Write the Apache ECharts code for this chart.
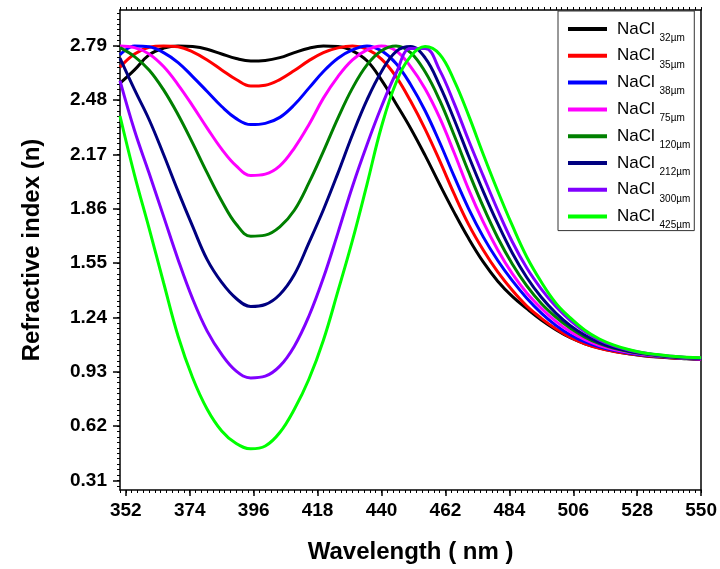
<!DOCTYPE html>
<html><head><meta charset="utf-8">
<script src="https://cdn.jsdelivr.net/npm/echarts@6/dist/echarts.min.js"></script>
<style>html,body{margin:0;padding:0;background:#fff}#c{width:720px;height:569px}</style>
</head><body><div id="c"></div>
<script>
const wavelengths = [350,355,360,365,370,375,380,385,390,395,400,405,410,415,420,425,430,435,440,445,450,455,460,465,470,475,480,485,490,495,500,505,510,515,520,525,530,535,540,545,550];

const nacl32 = [2.577,2.653,2.739,2.777,2.790,2.786,2.771,2.744,2.718,2.704,2.707,2.723,2.752,2.777,2.789,2.787,2.762,2.705,2.595,2.460,2.320,2.165,2.000,1.840,1.690,1.557,1.447,1.360,1.290,1.225,1.170,1.124,1.090,1.065,1.047,1.033,1.022,1.014,1.008,1.004,1.000];
const nacl35 = [2.669,2.744,2.782,2.790,2.785,2.756,2.710,2.653,2.598,2.561,2.566,2.598,2.649,2.706,2.752,2.779,2.790,2.772,2.715,2.615,2.475,2.315,2.135,1.945,1.770,1.625,1.500,1.395,1.305,1.235,1.175,1.126,1.090,1.064,1.046,1.033,1.023,1.015,1.009,1.005,1.002];
const nacl38 = [2.739,2.790,2.785,2.752,2.695,2.615,2.530,2.444,2.375,2.341,2.348,2.382,2.454,2.549,2.644,2.720,2.767,2.790,2.762,2.690,2.570,2.420,2.240,2.045,1.860,1.700,1.565,1.450,1.350,1.265,1.195,1.140,1.100,1.072,1.052,1.037,1.026,1.018,1.011,1.006,1.003];
const nacl75 = [2.790,2.780,2.744,2.672,2.568,2.448,2.321,2.201,2.105,2.050,2.058,2.105,2.207,2.340,2.492,2.615,2.710,2.767,2.790,2.762,2.672,2.545,2.380,2.180,1.970,1.785,1.625,1.490,1.380,1.292,1.218,1.158,1.113,1.080,1.057,1.041,1.029,1.020,1.013,1.007,1.003];
const nacl120 = [2.780,2.729,2.653,2.539,2.397,2.235,2.065,1.905,1.772,1.704,1.710,1.757,1.852,2.008,2.188,2.378,2.549,2.682,2.763,2.790,2.752,2.642,2.480,2.280,2.070,1.872,1.695,1.545,1.420,1.320,1.242,1.178,1.128,1.090,1.064,1.046,1.032,1.022,1.014,1.008,1.005];
const nacl212 = [2.720,2.540,2.370,2.170,1.960,1.760,1.570,1.440,1.348,1.303,1.314,1.371,1.485,1.666,1.855,2.064,2.283,2.482,2.644,2.758,2.786,2.722,2.565,2.370,2.160,1.960,1.775,1.608,1.468,1.355,1.265,1.193,1.138,1.097,1.068,1.049,1.035,1.024,1.016,1.010,1.006];
const nacl300 = [2.592,2.307,2.064,1.817,1.570,1.346,1.162,1.029,0.934,0.895,0.905,0.962,1.076,1.247,1.466,1.723,1.988,2.226,2.444,2.634,2.775,2.775,2.652,2.462,2.250,2.048,1.852,1.672,1.522,1.402,1.302,1.222,1.158,1.111,1.078,1.054,1.038,1.026,1.018,1.012,1.008];
const nacl425 = [2.390,2.053,1.750,1.438,1.133,0.896,0.716,0.592,0.520,0.490,0.506,0.583,0.716,0.887,1.110,1.390,1.680,2.000,2.330,2.580,2.730,2.786,2.742,2.592,2.392,2.172,1.962,1.765,1.585,1.442,1.322,1.237,1.167,1.117,1.082,1.057,1.039,1.028,1.019,1.013,1.010];

const seriesSizes = ['32µm','35µm','38µm','75µm','120µm','212µm','300µm','425µm'];
const seriesValues = [nacl32,nacl35,nacl38,nacl75,nacl120,nacl212,nacl300,nacl425];
const seriesColors = ['#000000','#ff0000','#0000ff','#ff00ff','#008000','#000080','#8000ff','#00ff00'];

const xTickLabels = [352,374,396,418,440,462,484,506,528,550];
const yTickLabels = [0.31,0.62,0.93,1.24,1.55,1.86,2.17,2.48,2.79];

const FONT = '"Liberation Sans", Arial, sans-serif';
const X_MIN = 350, X_MAX = 550, Y_MIN = 0.255, Y_MAX = 2.995;

const xMinor = [];
for (let v = 350; v <= 550; v += 2) xMinor.push(v);
const yMinor = [];
for (let k = 9; k <= 96; k++) yMinor.push(Math.round(k * 31) / 1000);

const chart = echarts.init(document.getElementById('c'), null, {renderer: 'canvas'});

const axisLineStyle = {color: '#000', width: 1.5};
const series = seriesValues.map((vals, i) => ({
  name: 'NaCl ' + seriesSizes[i],
  type: 'line',
  xAxisIndex: 0, yAxisIndex: 0,
  data: wavelengths.map((w, j) => [w, vals[j]]),
  smooth: 0.4,
  showSymbol: false,
  symbol: 'none',
  lineStyle: {color: seriesColors[i], width: 3},
  itemStyle: {color: seriesColors[i]},
  z: 2 + i,
  animation: false
}));

chart.setOption({
  animation: false,
  backgroundColor: '#fff',
  grid: {left: 120, right: 17, top: 10, bottom: 78, containLabel: false},
  legend: {
    orient: 'vertical', left: 558, top: 11,
    padding: [4, 4, 0, 10],
    itemWidth: 39, itemHeight: 4, itemGap: -1.2,
    icon: 'rect',
    backgroundColor: '#fff',
    borderColor: '#333', borderWidth: 1,
    data: seriesSizes.map(s => 'NaCl ' + s),
    formatter: name => '{a|NaCl }{b|' + name.replace('NaCl ', '') + '}',
    textStyle: {
      fontFamily: FONT, color: '#000',
      rich: {
        a: {fontSize: 17, fontFamily: FONT, color: '#000', lineHeight: 22, padding: [0, 0, 0, 5]},
        b: {fontSize: 10, fontFamily: FONT, color: '#000', lineHeight: 8, padding: [18, 0, 0, 0]}
      }
    }
  },
  xAxis: [
    {
      type: 'value', min: X_MIN, max: X_MAX, position: 'bottom',
      axisLine: {onZero: false, lineStyle: axisLineStyle},
      axisTick: {show: true, customValues: xMinor, length: 3, lineStyle: {color: '#000', width: 1}},
      axisLabel: {customValues: xTickLabels, fontSize: 19, fontWeight: 'bold', color: '#000', fontFamily: FONT, margin: 11},
      splitLine: {show: false},
      name: 'Wavelength ( nm )', nameLocation: 'middle', nameGap: 50,
      nameTextStyle: {fontSize: 24, fontWeight: 'bold', color: '#000', fontFamily: FONT}
    },
    {
      type: 'value', min: X_MIN, max: X_MAX, position: 'bottom',
      axisLine: {show: false, onZero: false},
      axisTick: {show: true, customValues: xTickLabels, length: 6, lineStyle: {color: '#000', width: 1.5}},
      axisLabel: {show: false}, splitLine: {show: false}
    },
    {
      type: 'value', min: X_MIN, max: X_MAX, position: 'top',
      axisLine: {onZero: false, lineStyle: axisLineStyle},
      axisTick: {show: true, customValues: xMinor, length: 3, lineStyle: {color: '#000', width: 1}},
      axisLabel: {show: false}, splitLine: {show: false}
    }
  ],
  yAxis: [
    {
      type: 'value', min: Y_MIN, max: Y_MAX, position: 'left',
      axisLine: {onZero: false, lineStyle: axisLineStyle},
      axisTick: {show: true, customValues: yMinor, length: 3, lineStyle: {color: '#000', width: 1}},
      axisLabel: {customValues: yTickLabels, formatter: v => v.toFixed(2), fontSize: 19, fontWeight: 'bold', color: '#000', fontFamily: FONT, margin: 13},
      splitLine: {show: false},
      name: 'Refractive index (n)', nameLocation: 'middle', nameGap: 76,
      nameTextStyle: {fontSize: 24, fontWeight: 'bold', color: '#000', fontFamily: FONT}
    },
    {
      type: 'value', min: Y_MIN, max: Y_MAX, position: 'left',
      axisLine: {show: false, onZero: false},
      axisTick: {show: true, customValues: yTickLabels, length: 7, lineStyle: {color: '#000', width: 1.5}},
      axisLabel: {show: false}, splitLine: {show: false}
    },
    {
      type: 'value', min: Y_MIN, max: Y_MAX, position: 'right',
      axisLine: {onZero: false, lineStyle: axisLineStyle},
      axisTick: {show: false}, axisLabel: {show: false}, splitLine: {show: false}
    }
  ],
  series: series
});
</script>
</body></html>
